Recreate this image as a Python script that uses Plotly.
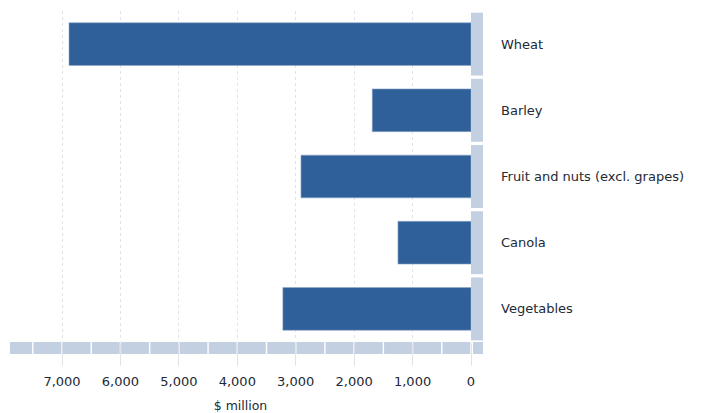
import plotly.graph_objects as go

categories = ["Wheat", "Barley", "Fruit and nuts (excl. grapes)", "Canola", "Vegetables"]
values = [6880, 1690, 2910, 1250, 3220]
tick_vals = [0, 1000, 2000, 3000, 4000, 5000, 6000, 7000]
tick_text = ["0", "1,000", "2,000", "3,000", "4,000", "5,000", "6,000", "7,000"]
x_max = 7890
seg_step = 500

bar_color = "#30609a"
band_color = "#c3d0e2"
text_color = "#222a36"
font_family = "DejaVu Sans"

fig = go.Figure()
fig.add_trace(go.Bar(
    y=categories, x=values, orientation="h",
    marker=dict(color=bar_color, line=dict(color="#8fa6c6", width=0.6)),
    width=0.645, hoverinfo="x+y",
))

W, H = 713, 413
ml, mr, mt, mb = 10, 242, 11, 71
pw = W - ml - mr
ph = H - mt - mb
band_px = 12

shapes = []
# right-hand axis band, one segment per category
for i in range(len(categories)):
    shapes.append(dict(
        type="rect", xref="paper", yref="y",
        x0=1.0, x1=1.0 + band_px / pw,
        y0=i - 0.5 + 0.025, y1=i + 0.5 - 0.025,
        fillcolor=band_color, line=dict(width=0), layer="above",
    ))
# bottom axis band, one segment per 500 units
k = 0
while k * seg_step < x_max:
    x0 = k * seg_step
    x1 = min((k + 1) * seg_step, x_max)
    shapes.append(dict(
        type="rect", xref="x", yref="paper",
        x0=x0 + 12, x1=x1 - 12 if x1 < x_max else x1,
        y0=-band_px / ph, y1=0,
        fillcolor=band_color, line=dict(width=0), layer="above",
    ))
    k += 1
# bottom band piece under the right band
shapes.append(dict(
    type="rect", xref="paper", yref="paper",
    x0=1.0 + 2 / pw, x1=1.0 + band_px / pw,
    y0=-band_px / ph, y1=0,
    fillcolor=band_color, line=dict(width=0), layer="above",
))

fig.update_layout(
    width=W, height=H,
    margin=dict(l=ml, r=mr, t=mt, b=mb, autoexpand=False),
    paper_bgcolor="white", plot_bgcolor="white",
    showlegend=False,
    bargap=0.355,
    font=dict(family=font_family, size=12, color=text_color),
    shapes=shapes,
    xaxis=dict(
        range=[x_max, 0],
        tickvals=tick_vals, ticktext=tick_text,
        showgrid=True, gridcolor="#e2e2e8", griddash="dot", gridwidth=1,
        ticks="outside", ticklen=23, tickcolor="#e2e2e8", tickwidth=1,
        ticklabelstandoff=4,
        showline=False, zeroline=False,
        title=dict(text="$ million", standoff=13, font=dict(size=12.5)),
        tickfont=dict(size=13),
        automargin=False,
        fixedrange=True,
    ),
    yaxis=dict(
        categoryorder="array", categoryarray=categories[::-1],
        side="right",
        showgrid=False, zeroline=False, showline=False,
        ticks="", ticklabelstandoff=29,
        tickfont=dict(size=13),
        automargin=False,
        fixedrange=True,
    ),
)

fig.write_html(
    "out.html",
    config={"displayModeBar": False},
    post_script="document.body.style.margin='0';document.body.style.overflow='hidden';",
)
